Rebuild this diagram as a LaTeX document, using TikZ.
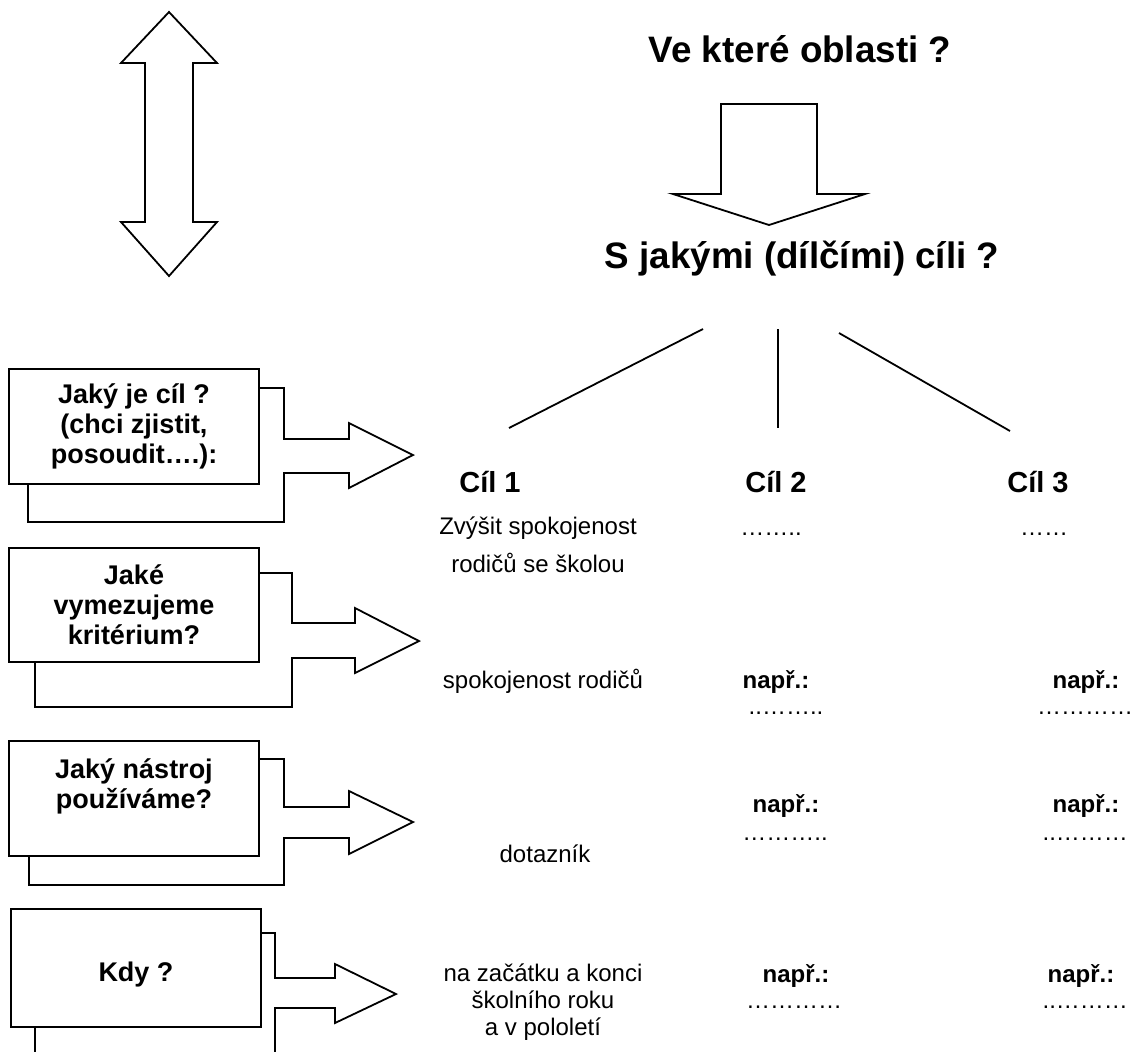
\documentclass[tikz,border=0pt]{standalone}
\usepackage{fontspec}
\setmainfont{Liberation Sans}
\usetikzlibrary{positioning}

\begin{document}
\begin{tikzpicture}[x=0.5pt,y=-0.5pt,line width=0.9pt,
    heading/.style={font=\fontsize{18.4}{22}\selectfont\bfseries,anchor=base},
    qbox/.style={draw,fill=white,outer sep=0pt,anchor=north west,align=center,
      minimum width=125pt,font=\fontsize{13.5}{15}\selectfont\bfseries},
    goal/.style={font=\fontsize{14.5}{16}\selectfont\bfseries,anchor=base},
    txt/.style={font=\fontsize{12}{13.5}\selectfont,anchor=base,align=center},
    eg/.style={font=\fontsize{12}{13.5}\selectfont\bfseries,anchor=base},
    shade/.style={draw,fill=white,line join=miter}]
  \useasboundingbox (0,0) rectangle (1145,1051);

  % arrows at the top
  \draw[shade] (169,12) -- (217,63) -- (193,63) -- (193,222) -- (217,222) -- (169,276)
    -- (121,222) -- (145,222) -- (145,63) -- (121,63) -- cycle;
  \draw[shade] (721,104) -- (817,104) -- (817,194) -- (865,194) -- (769,225)
    -- (673,194) -- (721,194) -- cycle;

  \node[heading] (area) at (800,62) {Ve které oblasti ?};
  \node[heading] (aims) at (802,268) {S jakými (dílčími) cíli ?};

  \coordinate (a1) at (703,329);
  \coordinate (a2) at (778,329);
  \coordinate (a3) at (839,333);
  \coordinate (c1) at (509,428);
  \coordinate (c2) at (778,428);
  \coordinate (c3) at (1010,431);
  \draw (a1) -- (c1);
  \draw (a2) -- (c2);
  \draw (a3) -- (c3);

  % question boxes with their arrows
  \draw[shade] (28,388) -- (284,388) -- (284,439) -- (349,439) -- (349,423) -- (413,455)
    -- (349,488) -- (349,473) -- (284,473) -- (284,522) -- (28,522) -- cycle;
  \node[qbox,minimum height=57.5pt] (q1) at (9,369)
    {Jaký je cíl ?\\(chci zjistit,\\posoudit….):};

  \draw[shade] (35,573) -- (292,573) -- (292,623) -- (355,623) -- (355,608) -- (419,641)
    -- (355,673) -- (355,658) -- (292,658) -- (292,707) -- (35,707) -- cycle;
  \node[qbox,minimum height=57pt] (q2) at (9,548)
    {Jaké\\vymezujeme\\kritérium?};

  \draw[shade] (29,759) -- (284,759) -- (284,807) -- (349,807) -- (349,791) -- (413,822)
    -- (349,854) -- (349,838) -- (284,838) -- (284,885) -- (29,885) -- cycle;
  \node[qbox,minimum height=57.5pt] (q3) at (9,741)
    {Jaký nástroj\\používáme?\\~};

  \draw[shade] (35,933) -- (275,933) -- (275,978) -- (335,978) -- (335,964) -- (396,994)
    -- (335,1023) -- (335,1008) -- (275,1008) -- (275,1090) -- (35,1090) -- cycle;
  \node[qbox,minimum height=59pt,text height=16pt,text depth=3pt] (q4) at (11,909) {Kdy ?};

  % goals
  \node[goal] (cil1) at (490,492) {Cíl 1};
  \node[goal] (cil2) at (776,492) {Cíl 2};
  \node[goal] (cil3) at (1038,492) {Cíl 3};

  \node[txt,font=\fontsize{12}{19}\selectfont] (aim1) at (538,572)
    {Zvýšit spokojenost\\rodičů se školou};
  \node[txt] (aim2) at (771,535) {……..};
  \node[txt] (aim3) at (1044,535) {……};

  % criteria
  \node[txt] (crit1) at (543,688) {spokojenost rodičů};
  \node[eg] (crit2) at (776,688) {např.:};
  \node[txt] (crit2d) at (786,714) {..……..};
  \node[eg] (crit3) at (1086,688) {např.:};
  \node[txt] (crit3d) at (1085,714) {…………};

  % tools
  \node[txt] (tool1) at (545,862) {dotazník};
  \node[eg] (tool2) at (786,812) {např.:};
  \node[txt] (tool2d) at (785,840) {………..};
  \node[eg] (tool3) at (1086,812) {např.:};
  \node[txt,anchor=base west] (tool3d) at (1035,840) {..………};

  % time
  \node[txt] (time1) at (543,1035) {na začátku a konci\\školního roku\\a v pololetí};
  \node[eg] (time2) at (796,982) {např.:};
  \node[txt] (time2d) at (794,1008) {…………};
  \node[eg] (time3) at (1081,982) {např.:};
  \node[txt,anchor=base west] (time3d) at (1035,1008) {..………};
\end{tikzpicture}
\end{document}
